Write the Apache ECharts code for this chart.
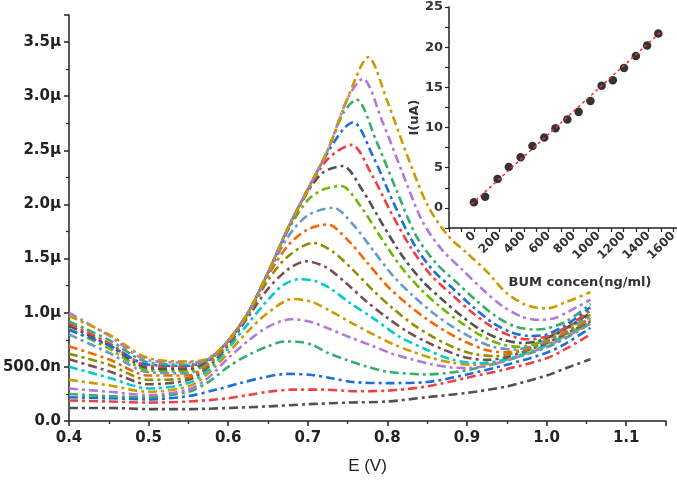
<!DOCTYPE html>
<html><head><meta charset="utf-8">
<script src="https://cdn.jsdelivr.net/npm/echarts@6/dist/echarts.min.js"></script>
<style>html,body{margin:0;padding:0;background:#fff}#c{width:677px;height:481px}</style>
</head><body><div id="c"></div>
<script>
// ---- main chart: I (µA) vs E (V), one array of [E, I] per curve ----
const c1 = [[0.40,0.12],[0.45,0.12],[0.50,0.11],[0.55,0.11],[0.60,0.12],[0.65,0.135],[0.70,0.155],[0.75,0.17],[0.80,0.18],[0.85,0.22],[0.90,0.26],[0.95,0.32],[1.00,0.42],[1.025,0.49],[1.055,0.57]];
const c2 = [[0.40,0.19],[0.45,0.18],[0.50,0.17],[0.55,0.18],[0.60,0.21],[0.625,0.24],[0.65,0.27],[0.68,0.29],[0.72,0.29],[0.76,0.275],[0.80,0.28],[0.85,0.32],[0.90,0.40],[0.95,0.48],[1.00,0.58],[1.025,0.67],[1.055,0.80]];
const c3 = [[0.40,0.22],[0.45,0.21],[0.50,0.20],[0.55,0.23],[0.585,0.29],[0.615,0.35],[0.64,0.395],[0.673,0.435],[0.705,0.425],[0.73,0.395],[0.757,0.36],[0.80,0.35],[0.85,0.36],[0.90,0.43],[0.95,0.52],[1.00,0.63],[1.025,0.72],[1.055,0.86]];
const c4 = [[0.40,0.25],[0.45,0.23],[0.50,0.22],[0.55,0.27],[0.575,0.36],[0.60,0.50],[0.625,0.61],[0.65,0.69],[0.67,0.734],[0.69,0.73],[0.707,0.70],[0.725,0.63],[0.75,0.56],[0.775,0.50],[0.80,0.455],[0.85,0.43],[0.90,0.47],[0.95,0.56],[1.00,0.68],[1.025,0.77],[1.055,0.90]];
const c5 = [[0.40,0.30],[0.45,0.27],[0.50,0.24],[0.55,0.29],[0.575,0.40],[0.60,0.58],[0.625,0.74],[0.65,0.87],[0.679,0.94],[0.704,0.915],[0.729,0.845],[0.754,0.77],[0.779,0.70],[0.804,0.627],[0.829,0.572],[0.854,0.526],[0.88,0.495],[0.90,0.49],[0.925,0.51],[0.95,0.56],[0.975,0.62],[1.00,0.69],[1.025,0.78],[1.055,0.90]];
const c6 = [[0.40,0.38],[0.45,0.33],[0.50,0.27],[0.55,0.32],[0.575,0.44],[0.60,0.63],[0.625,0.83],[0.65,1.0],[0.681,1.127],[0.706,1.097],[0.731,1.006],[0.756,0.902],[0.781,0.805],[0.806,0.714],[0.831,0.641],[0.856,0.581],[0.881,0.538],[0.906,0.52],[0.93,0.53],[0.955,0.58],[0.98,0.64],[1.00,0.70],[1.025,0.79],[1.055,0.90]];
const c7 = [[0.40,0.50],[0.45,0.40],[0.50,0.30],[0.55,0.35],[0.575,0.47],[0.60,0.67],[0.625,0.90],[0.65,1.12],[0.67,1.26],[0.69,1.31],[0.71,1.29],[0.727,1.23],[0.753,1.09],[0.782,0.95],[0.815,0.78],[0.849,0.66],[0.882,0.565],[0.916,0.534],[0.95,0.57],[0.975,0.63],[1.00,0.70],[1.025,0.80],[1.055,0.91]];
const c8 = [[0.40,0.57],[0.45,0.46],[0.50,0.34],[0.55,0.38],[0.575,0.50],[0.60,0.70],[0.625,0.96],[0.65,1.22],[0.675,1.40],[0.698,1.475],[0.723,1.42],[0.748,1.274],[0.773,1.109],[0.798,0.963],[0.823,0.835],[0.848,0.734],[0.873,0.652],[0.898,0.587],[0.925,0.565],[0.95,0.59],[0.975,0.65],[1.00,0.72],[1.025,0.81],[1.055,0.92]];
const c9 = [[0.40,0.62],[0.45,0.52],[0.50,0.38],[0.55,0.40],[0.575,0.52],[0.60,0.72],[0.625,0.98],[0.65,1.30],[0.675,1.52],[0.707,1.645],[0.732,1.561],[0.757,1.394],[0.782,1.206],[0.807,1.039],[0.832,0.893],[0.857,0.778],[0.882,0.684],[0.907,0.621],[0.935,0.60],[0.96,0.63],[0.98,0.67],[1.00,0.73],[1.025,0.82],[1.055,0.93]];
const c10 = [[0.40,0.69],[0.45,0.57],[0.50,0.42],[0.55,0.42],[0.575,0.54],[0.60,0.73],[0.625,1.0],[0.65,1.34],[0.675,1.62],[0.70,1.77],[0.725,1.815],[0.75,1.673],[0.775,1.46],[0.80,1.246],[0.825,1.08],[0.85,0.938],[0.875,0.82],[0.90,0.725],[0.925,0.654],[0.95,0.635],[0.975,0.67],[1.00,0.74],[1.025,0.83],[1.055,0.95]];
const c11 = [[0.40,0.80],[0.45,0.63],[0.50,0.45],[0.55,0.44],[0.575,0.55],[0.60,0.74],[0.625,1.0],[0.65,1.36],[0.675,1.70],[0.70,1.90],[0.732,1.97],[0.757,1.813],[0.782,1.577],[0.807,1.341],[0.832,1.158],[0.857,1.0],[0.882,0.87],[0.907,0.765],[0.932,0.686],[0.96,0.66],[0.98,0.69],[1.00,0.75],[1.025,0.85],[1.055,0.96]];
const c12 = [[0.40,0.85],[0.45,0.67],[0.50,0.47],[0.55,0.46],[0.575,0.56],[0.60,0.74],[0.625,1.0],[0.65,1.37],[0.675,1.76],[0.70,2.04],[0.72,2.14],[0.742,2.17],[0.767,1.976],[0.792,1.693],[0.817,1.425],[0.842,1.216],[0.867,1.05],[0.892,0.911],[0.917,0.792],[0.942,0.71],[0.965,0.685],[0.985,0.71],[1.00,0.76],[1.025,0.86],[1.055,0.98]];
const c13 = [[0.40,0.88],[0.45,0.70],[0.50,0.49],[0.55,0.48],[0.575,0.56],[0.60,0.74],[0.625,1.0],[0.65,1.37],[0.675,1.77],[0.70,2.12],[0.72,2.30],[0.744,2.355],[0.769,2.126],[0.794,1.815],[0.819,1.521],[0.844,1.292],[0.869,1.121],[0.894,0.965],[0.919,0.834],[0.944,0.753],[0.97,0.72],[0.99,0.74],[1.01,0.80],[1.03,0.88],[1.055,1.0]];
const c14 = [[0.40,0.90],[0.45,0.72],[0.50,0.51],[0.55,0.50],[0.575,0.57],[0.60,0.74],[0.625,1.0],[0.65,1.37],[0.675,1.78],[0.70,2.13],[0.725,2.42],[0.755,2.55],[0.78,2.28],[0.805,1.92],[0.83,1.596],[0.855,1.344],[0.88,1.173],[0.905,1.011],[0.93,0.876],[0.955,0.786],[0.975,0.755],[1.00,0.78],[1.025,0.87],[1.055,1.02]];
const c15 = [[0.40,0.84],[0.45,0.70],[0.50,0.52],[0.55,0.51],[0.575,0.57],[0.60,0.74],[0.625,1.0],[0.65,1.37],[0.675,1.78],[0.70,2.14],[0.725,2.48],[0.745,2.70],[0.757,2.76],[0.782,2.443],[0.807,2.027],[0.832,1.651],[0.857,1.394],[0.882,1.226],[0.907,1.057],[0.932,0.909],[0.957,0.816],[0.98,0.785],[1.00,0.80],[1.025,0.89],[1.055,1.05]];
const c16 = [[0.40,0.92],[0.45,0.75],[0.50,0.54],[0.55,0.52],[0.575,0.57],[0.60,0.74],[0.625,1.0],[0.65,1.37],[0.675,1.78],[0.70,2.14],[0.725,2.50],[0.745,2.85],[0.761,2.97],[0.786,2.587],[0.811,2.139],[0.836,1.713],[0.861,1.458],[0.886,1.287],[0.911,1.117],[0.936,0.968],[0.961,0.872],[0.985,0.845],[1.00,0.855],[1.025,0.92],[1.055,1.08]];
const c17 = [[0.40,1.0],[0.45,0.79],[0.50,0.56],[0.55,0.54],[0.575,0.57],[0.60,0.74],[0.625,1.0],[0.65,1.37],[0.675,1.78],[0.70,2.14],[0.725,2.50],[0.75,2.98],[0.769,3.16],[0.794,2.759],[0.819,2.29],[0.844,1.844],[0.869,1.577],[0.894,1.398],[0.919,1.22],[0.944,1.064],[0.969,0.963],[0.99,0.935],[1.01,0.95],[1.03,1.02],[1.055,1.12]];
const c18 = [[0.40,0.97],[0.45,0.80],[0.50,0.58],[0.55,0.55],[0.575,0.58],[0.60,0.74],[0.625,1.0],[0.65,1.37],[0.675,1.78],[0.70,2.14],[0.725,2.50],[0.75,2.98],[0.776,3.36],[0.80,2.95],[0.825,2.45],[0.85,2.0],[0.875,1.72],[0.90,1.55],[0.925,1.38],[0.95,1.18],[0.975,1.07],[1.00,1.04],[1.025,1.10],[1.055,1.19]];

// ---- inset: calibration ----
const bumConc = [0, 90, 190, 280, 375, 470, 565, 655, 750, 840, 935, 1025, 1115, 1205, 1300, 1390, 1480];
const bumCurrent = [0.7, 1.4, 3.6, 5.1, 6.3, 7.7, 8.75, 9.9, 11.0, 11.95, 13.3, 15.2, 15.9, 17.4, 18.9, 20.2, 21.7];
const fitConc = [-20, 1500];
const fitCurrent = [0.45, 21.9];

// ---- tick labels ----
const mainXTicks = [0.4, 0.5, 0.6, 0.7, 0.8, 0.9, 1.0, 1.1];
const mainYTicks = ['0.0', '500.0n', '1.0μ', '1.5μ', '2.0μ', '2.5μ', '3.0μ', '3.5μ'];
const insetXTicks = [0, 200, 400, 600, 800, 1000, 1200, 1400, 1600];
const insetYTicks = [0, 5, 10, 15, 20, 25];

const curves = [c1,c2,c3,c4,c5,c6,c7,c8,c9,c10,c11,c12,c13,c14,c15,c16,c17,c18];
const palette = ['#515151','#F14040','#1A6FDF','#37AD6B','#B177DE','#CC9900','#00CBCC','#7D4E4E','#8E8E00','#FB6501','#6699CC','#6FB802'];

const txt = '#222';
const lab = {fontFamily:'DejaVu Sans', fontWeight:'bold', color:txt};
const near = (a,b)=>Math.abs(a-b)<1e-6;

const series = curves.map((d,i)=>({
  name: 'curve ' + (i+1), type:'line', xAxisIndex:0, yAxisIndex:0, data:d,
  showSymbol:false, smooth:0.3, z:2,
  lineStyle:{color:palette[i%palette.length], width:2.6, type:[9,4,3,4]},
  itemStyle:{color:palette[i%palette.length]}
}));
series.push({
  name:'BUM', type:'scatter', xAxisIndex:1, yAxisIndex:1,
  data: bumConc.map((x,i)=>[x,bumCurrent[i]]),
  symbol:'circle', symbolSize:8.5, itemStyle:{color:'#000'}, z:3
});
series.push({
  name:'fit', type:'line', xAxisIndex:1, yAxisIndex:1,
  data: fitConc.map((x,i)=>[x,fitCurrent[i]]),
  showSymbol:false, lineStyle:{color:'#ff2a2a', width:1.5, type:[3,3]}, z:4
});

const axisLine = {show:true, onZero:false, lineStyle:{color:txt, width:1.5}};
const option = {
  animation:false,
  backgroundColor:'#fff',
  grid:[
    {left:69, right:11, top:15, bottom:60, containLabel:false, outerBoundsMode:'none'},
    {left:449, right:0, top:7, bottom:253, containLabel:false, outerBoundsMode:'none'}
  ],
  xAxis:[
    {gridIndex:0, type:'value', min:0.4, max:1.15, interval:0.1,
     name:'E (V)', nameLocation:'middle', nameGap:37,
     nameTextStyle:{fontFamily:'Liberation Sans', fontSize:17, color:txt},
     axisLine, axisTick:{show:true, length:5, lineStyle:{color:txt, width:1.5}},
     minorTick:{show:true, splitNumber:2, length:3, lineStyle:{color:txt, width:1.2}},
     splitLine:{show:false},
     axisLabel:{...lab, fontSize:15, margin:10,
       formatter:v=>{const t=mainXTicks.find(x=>near(x,v)); return t===undefined?'':t.toFixed(1);}}},
    {gridIndex:1, type:'value', min:-200, max:1630, interval:100,
     name:'BUM concen(ng/ml)', nameLocation:'middle', nameGap:48,
     nameTextStyle:{fontFamily:'DejaVu Sans', fontWeight:'bold', fontSize:13, color:'#333', padding:[0,0,0,34]},
     axisLine, axisTick:{show:true, length:4, lineStyle:{color:txt, width:1.2}},
     splitLine:{show:false},
     axisLabel:{...lab, color:'#333', fontSize:12, rotate:45, margin:6,
       formatter:v=>{const t=insetXTicks.find(x=>near(x,v)); return t===undefined?'':String(t);}}}
  ],
  yAxis:[
    {gridIndex:0, type:'value', min:0, max:3.75, interval:0.5,
     name:'I(A)', nameLocation:'middle', nameGap:50,
     nameTextStyle:{fontFamily:'DejaVu Sans', fontWeight:'bold', fontSize:16, color:txt, padding:[0,0,0,40]},
     axisLine, axisTick:{show:true, length:5, lineStyle:{color:txt, width:1.5}},
     minorTick:{show:true, splitNumber:2, length:3, lineStyle:{color:txt, width:1.2}},
     splitLine:{show:false},
     axisLabel:{...lab, fontSize:15, margin:8,
       formatter:v=>{const k=Math.round(v/0.5); return near(k*0.5,v)&&k<mainYTicks.length?mainYTicks[k]:'';}}},
    {gridIndex:1, type:'value', min:-2.5, max:25, interval:2.5,
     name:'I(uA)', nameLocation:'middle', nameGap:28,
     nameTextStyle:{fontFamily:'DejaVu Sans', fontWeight:'bold', fontSize:13, color:'#333'},
     axisLine, axisTick:{show:true, length:4, lineStyle:{color:txt, width:1.2}},
     splitLine:{show:false},
     axisLabel:{...lab, color:'#333', fontSize:13, margin:6,
       formatter:v=>{const t=insetYTicks.find(x=>near(x,v)); return t===undefined?'':String(t);}}}
  ],
  series
};
const chart = echarts.init(document.getElementById('c'), null, {renderer:'canvas'});
chart.setOption(option);
</script></body></html>
